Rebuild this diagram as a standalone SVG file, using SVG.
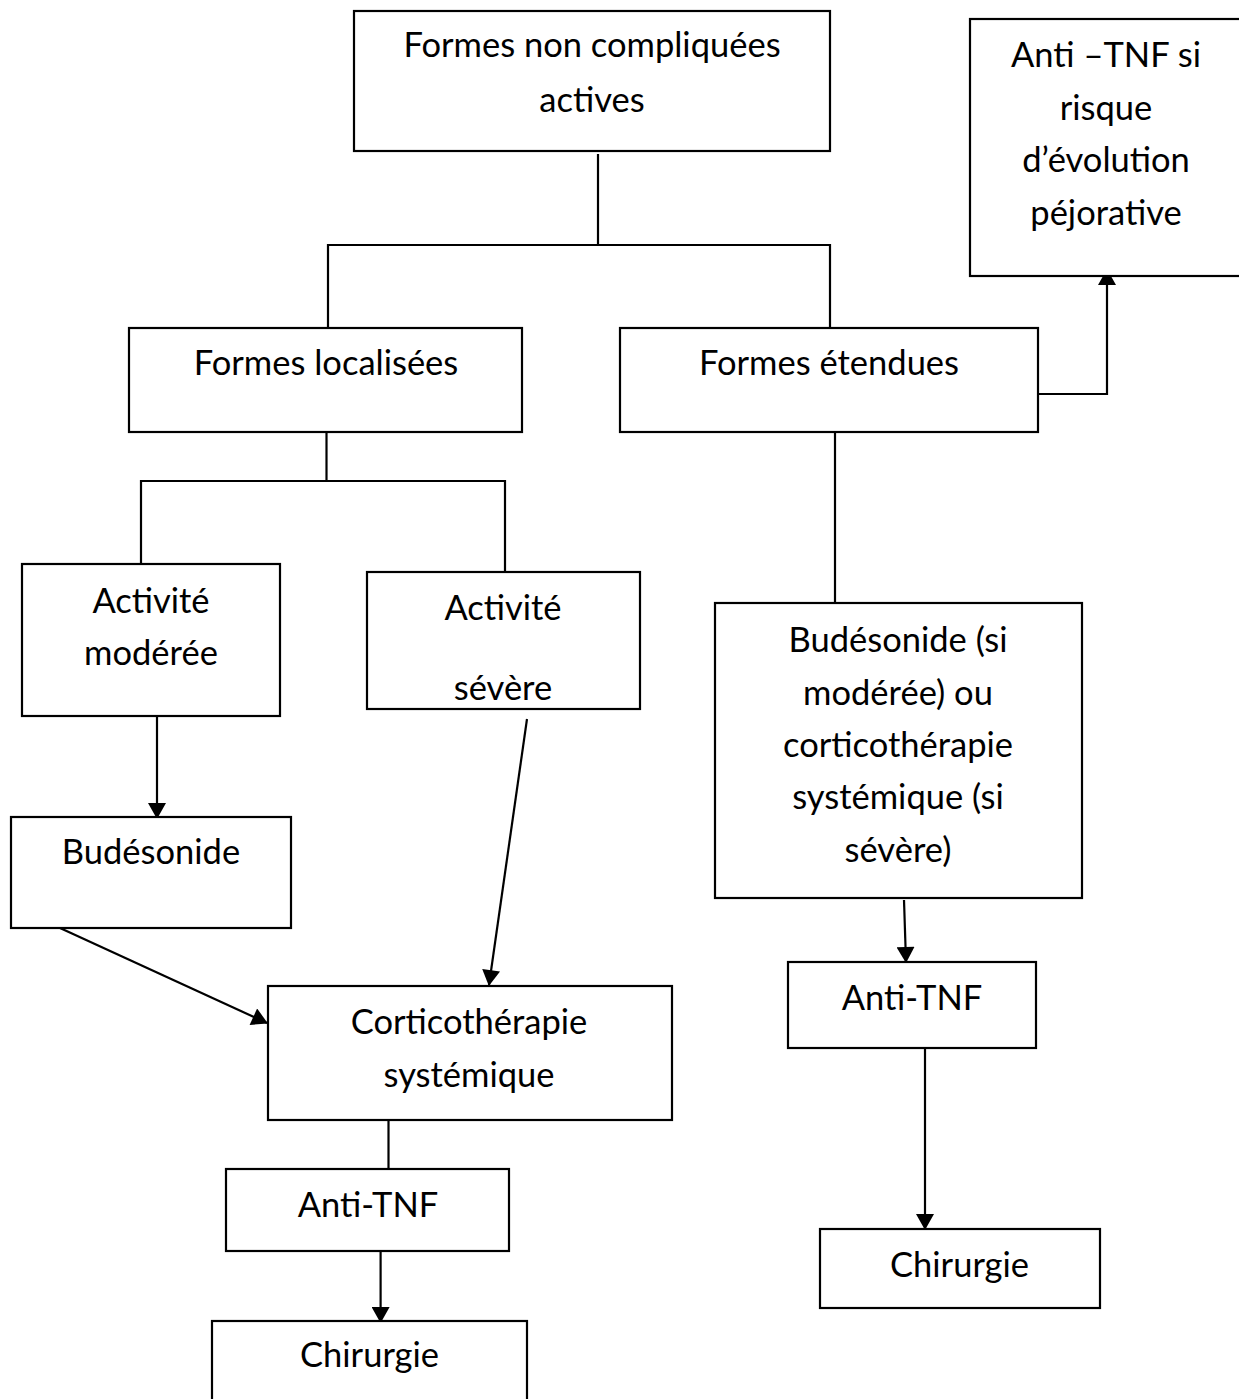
<svg xmlns="http://www.w3.org/2000/svg" width="1239" height="1399" viewBox="0 0 1239 1399">
<defs>
<style>
.box{fill:#fff;stroke:#000;stroke-width:2.2}
.t{font-family:Lato,"Open Sans","Liberation Sans",sans-serif;font-size:34.5px;fill:#000;text-anchor:middle}
.c{fill:none;stroke:#000;stroke-width:2.2}
.a{marker-end:url(#arr)}
</style>
<marker id="arr" markerUnits="userSpaceOnUse" markerWidth="18" markerHeight="18" viewBox="0 0 16 18" refX="15" refY="9" orient="auto">
<path d="M0,0 L16,9 L0,18 Z" fill="#000"/>
</marker>
</defs>
<rect width="1239" height="1399" fill="#fff"/>
<g id="connectors">
<line class="c" x1="598" y1="154" x2="598" y2="244"/>
<polyline class="c" points="328,328 328,245 830,245 830,328"/>
<line class="c" x1="326.5" y1="428" x2="326.5" y2="482"/>
<polyline class="c" points="141,564 141,481 505,481 505,572"/>
<line class="c a" x1="157" y1="713" x2="157" y2="818"/>
<line class="c a" x1="527" y1="719" x2="489" y2="985"/>
<line class="c a" x1="60" y1="928" x2="267" y2="1023"/>
<line class="c" x1="388.5" y1="1120" x2="388.5" y2="1169"/>
<line class="c a" x1="380.6" y1="1244" x2="380.6" y2="1322"/>
<line class="c" x1="835" y1="430" x2="835" y2="603"/>
<polyline class="c a" points="1037,394 1107,394 1107,270"/>
<line class="c a" x1="904" y1="900" x2="906" y2="962"/>
<line class="c a" x1="925" y1="1047" x2="925" y2="1229"/>
</g>
<g id="n-top"><rect class="box" x="354" y="11" width="476" height="140"/>
<text class="t" x="592" y="57">Formes non compliquées</text><text class="t" x="592" y="112">actives</text></g>
<g id="n-antitnf-si"><rect class="box" x="970" y="19" width="280" height="257"/>
<text class="t" x="1106" y="67">Anti –TNF si</text><text class="t" x="1106" y="120">risque</text><text class="t" x="1106" y="172">d’évolution</text><text class="t" x="1106" y="225">péjorative</text></g>
<g id="n-localisees"><rect class="box" x="129" y="328" width="393" height="104"/>
<text class="t" x="326" y="375">Formes localisées</text></g>
<g id="n-etendues"><rect class="box" x="620" y="328" width="418" height="104"/>
<text class="t" x="829" y="375">Formes étendues</text></g>
<g id="n-moderee"><rect class="box" x="22" y="564" width="258" height="152"/>
<text class="t" x="151" y="613">Activité</text><text class="t" x="151" y="665">modérée</text></g>
<g id="n-severe"><rect class="box" x="367" y="572" width="273" height="137"/>
<text class="t" x="503" y="620">Activité</text><text class="t" x="503" y="700">sévère</text></g>
<g id="n-budesonide"><rect class="box" x="11" y="817" width="280" height="111"/>
<text class="t" x="151" y="864">Budésonide</text></g>
<g id="n-cortico"><rect class="box" x="268" y="986" width="404" height="134"/>
<text class="t" x="469" y="1034">Corticothérapie</text><text class="t" x="469" y="1087">systémique</text></g>
<g id="n-antitnf-l"><rect class="box" x="226" y="1169" width="283" height="82"/>
<text class="t" x="368" y="1217">Anti-TNF</text></g>
<g id="n-chir-l"><rect class="box" x="212" y="1321" width="315" height="100"/>
<text class="t" x="369.5" y="1367">Chirurgie</text></g>
<g id="n-budesonide-si"><rect class="box" x="715" y="603" width="367" height="295"/>
<text class="t" x="898" y="652">Budésonide (si</text><text class="t" x="898" y="705">modérée) ou</text><text class="t" x="898" y="757">corticothérapie</text><text class="t" x="898" y="809">systémique (si</text><text class="t" x="898" y="862">sévère)</text></g>
<g id="n-antitnf-r"><rect class="box" x="788" y="962" width="248" height="86"/>
<text class="t" x="912" y="1010">Anti-TNF</text></g>
<g id="n-chir-r"><rect class="box" x="820" y="1229" width="280" height="79"/>
<text class="t" x="959.5" y="1277">Chirurgie</text></g>
</svg>
